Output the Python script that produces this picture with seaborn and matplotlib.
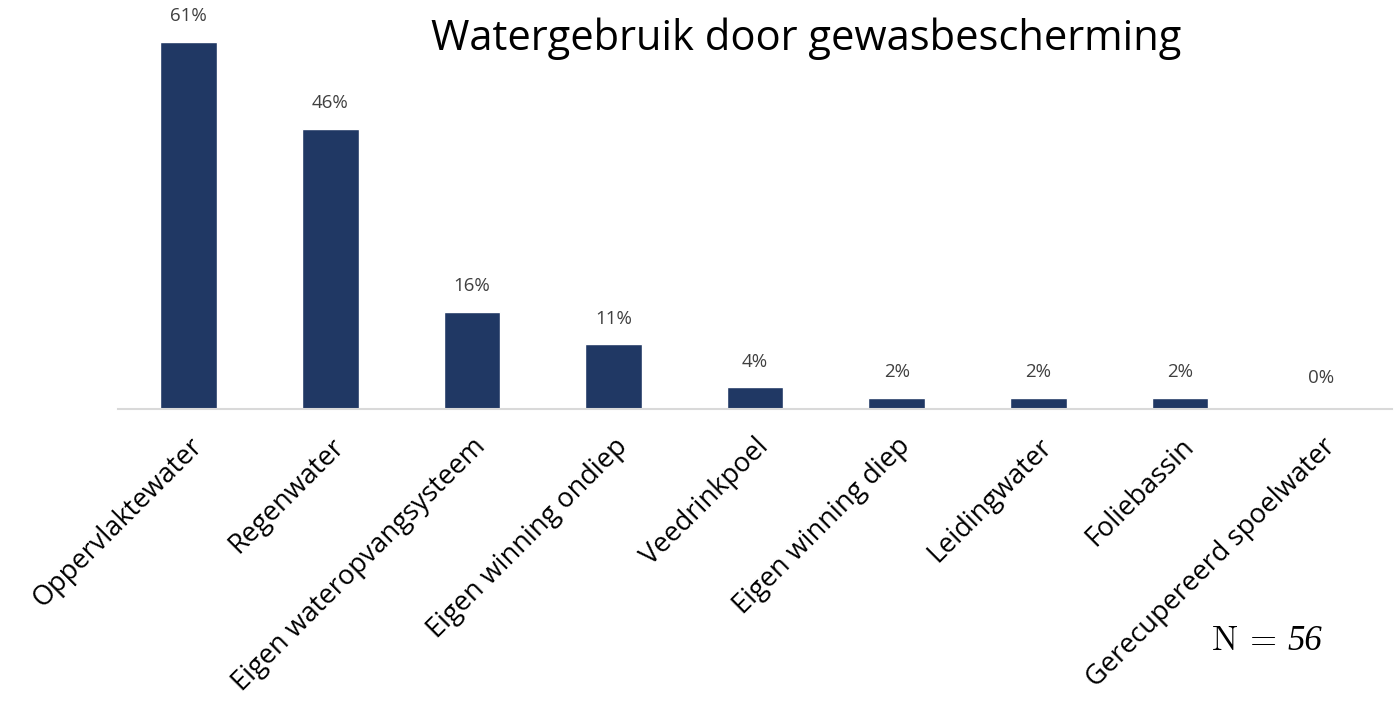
import matplotlib
matplotlib.use("Agg")
import matplotlib.pyplot as plt
import seaborn as sns
import pandas as pd

categories = ["Oppervlaktewater", "Regenwater", "Eigen wateropvangsysteem",
              "Eigen winning ondiep", "Veedrinkpoel", "Eigen winning diep",
              "Leidingwater", "Foliebassin", "Gerecupereerd spoelwater"]
values = [60.7, 46.4, 16.1, 10.7, 3.6, 1.8, 1.8, 1.8, 0.0]
labels = ["61%", "46%", "16%", "11%", "4%", "2%", "2%", "2%", "0%"]
title = "Watergebruik door gewasbescherming"
note_left = r"$\mathrm{N}\:=$"
note_right = "56"

sns.set_theme(style="white")
plt.rcParams['font.family'] = ['Open Sans', 'DejaVu Sans']
plt.rcParams['mathtext.fontset'] = 'cm'

df = pd.DataFrame({"cat": categories, "val": values})
fig = plt.figure(figsize=(13.95, 7.01), dpi=100)
ax = fig.add_axes([0.0846, 0.4165, 0.9134, 0.5235])
sns.barplot(data=df, x="cat", y="val", color="#203864", width=0.4, ax=ax,
            saturation=1)
ax.set_xlim(-0.5, 8.5)
ax.set_ylim(0, 60.7)
for s in ["top", "right", "left"]:
    ax.spines[s].set_visible(False)
ax.spines["bottom"].set_color("#d9d9d9")
ax.spines["bottom"].set_linewidth(1.5)
ax.set_yticks([])
ax.set_xlabel("")
ax.set_ylabel("")
ax.tick_params(axis="x", length=0, pad=17)
ax.set_xticks(range(len(categories)))
ax.set_xticklabels(categories, rotation=45, ha="right", rotation_mode="anchor",
                   fontsize=19.5, color="black")
for i, (v, l) in enumerate(zip(values, labels)):
    ax.annotate(l, (i, v), xytext=(0, 12 if v > 0 else 16), textcoords="offset points",
                ha="center", va="bottom", fontsize=13.5, color="#404040",
                annotation_clip=False)
fig.text(0.578, 0.945, title, ha="center", va="center", fontsize=30, color="black")
fig.text(0.9154, 0.0728, note_left, ha="right", va="baseline", fontsize=25, color="black")
fig.text(0.9226, 0.0728, note_right, ha="left", va="baseline", fontsize=25,
         color="black", family="Liberation Serif", style="italic")
fig.savefig("out.png", dpi=100)
